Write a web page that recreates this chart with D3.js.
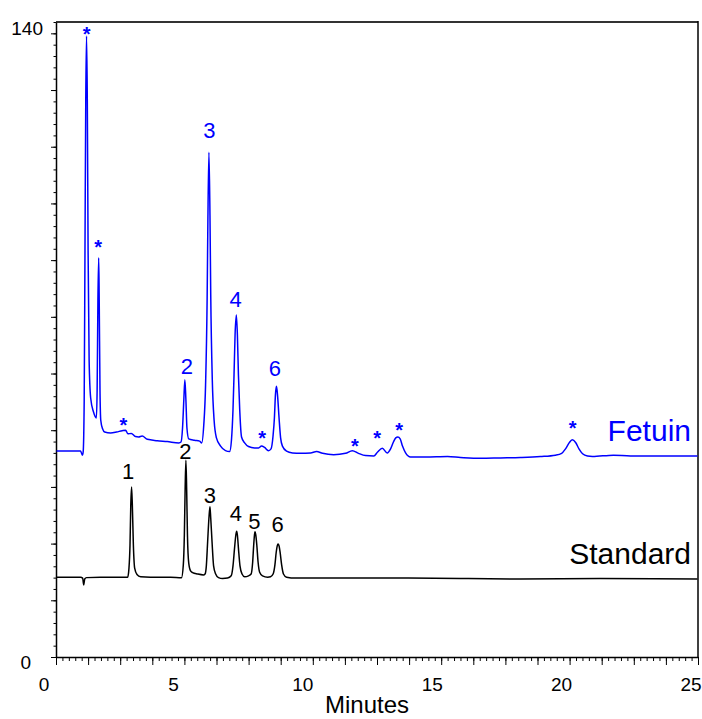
<!DOCTYPE html>
<html>
<head>
<meta charset="utf-8">
<script src="https://cdn.jsdelivr.net/npm/d3@7"></script>
<style>
  html, body { margin: 0; padding: 0; background: #fff; }
  svg { display: block; font-family: "Liberation Sans", Arial, Helvetica, sans-serif; }
</style>
</head>
<body>
<script>
// Fetuin chromatogram: retention time (min) and detector signal
const fetuinTime = [
  0.50, 1.43, 1.50, 1.53, 1.57, 1.60, 1.63, 1.66, 1.69, 1.72, 1.76, 1.82, 1.93,
  2.04, 2.07, 2.10, 2.13, 2.15, 2.18, 2.21, 2.28, 2.36, 2.59, 2.82,
  3.04, 3.17, 3.26, 3.39, 3.55, 3.67, 3.81, 4.01, 4.39, 4.78,
  5.23, 5.31, 5.37, 5.42, 5.46, 5.50, 5.54, 5.61, 5.83, 6.03,
  6.11, 6.19, 6.26, 6.32, 6.35, 6.39, 6.43, 6.46, 6.52, 6.59, 6.68, 6.84, 7.03, 7.19,
  7.26, 7.32, 7.36, 7.40, 7.45, 7.49, 7.53, 7.58, 7.65, 7.77, 7.92,
  8.15, 8.31, 8.42, 8.54, 8.69,
  8.79, 8.87, 8.92, 8.96, 9.00, 9.04, 9.10, 9.16, 9.23, 9.39, 9.62, 9.93,
  10.32, 10.55, 10.78, 11.21, 11.67, 11.93, 12.17, 12.44, 12.76, 12.91, 13.09, 13.28,
  13.41, 13.52, 13.61, 13.69, 13.78, 13.87, 13.99, 14.18, 14.76, 15.61, 16.11, 16.89, 17.66, 18.43, 19.20, 19.78,
  20.02, 20.17, 20.31, 20.43, 20.56, 20.69, 20.83, 21.02, 21.21, 22.02, 22.68, 23.84, 25.27
];
const fetuinSignal = [
  45.4, 45.4, 44.5, 45.2, 56.7, 89.7, 122.8, 136.9, 122.8, 89.7, 65.5, 57.1, 54.0,
  52.7, 58.9, 78.7, 88.0, 78.7, 58.9, 52.2, 50.3, 49.6, 49.4, 49.6,
  49.9, 50.0, 49.2, 49.3, 48.6, 48.5, 48.7, 48.0, 47.7, 47.5,
  47.2, 47.4, 50.5, 56.7, 61.1, 56.7, 50.5, 48.1, 47.8, 47.6,
  47.2, 51.1, 60.0, 78.7, 96.3, 111.3, 97.4, 79.8, 61.1, 52.2, 48.3, 46.5, 45.5, 45.3,
  47.8, 54.5, 62.2, 71.0, 75.4, 71.0, 62.2, 54.5, 48.5, 47.2, 46.4,
  46.1, 46.1, 46.5, 46.2, 45.5,
  45.9, 48.9, 52.7, 57.8, 59.7, 57.8, 52.7, 48.3, 46.5, 45.4, 45.0, 44.9,
  45.0, 45.3, 44.9, 44.6, 44.9, 45.5, 44.9, 44.4, 44.3, 45.2, 46.0, 45.0,
  45.9, 47.4, 48.3, 48.5, 48.1, 46.5, 45.0, 44.1, 44.1, 44.2, 44.0, 43.8, 43.9, 44.0, 44.2, 44.5,
  44.9, 45.9, 47.2, 47.9, 47.3, 45.9, 44.8, 44.3, 44.2, 44.5, 44.3, 44.3, 44.3
];

// Standard chromatogram
const standardTime = [
  0.50, 1.43, 1.51, 1.55, 1.59, 1.66, 2.20, 2.98,
  3.25, 3.30, 3.34, 3.37, 3.40, 3.43, 3.47, 3.52, 3.61, 3.75, 4.13, 4.91,
  5.33, 5.40, 5.44, 5.47, 5.50, 5.53, 5.56, 5.61, 5.68, 5.76, 5.95, 6.18,
  6.24, 6.29, 6.34, 6.39, 6.43, 6.46, 6.51, 6.57, 6.65, 6.76, 6.92, 7.11,
  7.25, 7.32, 7.38, 7.43, 7.46, 7.49, 7.53, 7.59, 7.67, 7.77, 7.92,
  8.02, 8.08, 8.12, 8.15, 8.17, 8.20, 8.24, 8.29, 8.35, 8.46, 8.66,
  8.77, 8.87, 8.94, 8.99, 9.03, 9.06, 9.10, 9.14, 9.20, 9.27, 9.39, 9.74,
  11.09, 13.79, 16.11, 18.43, 21.52, 25.27
];
const standardSignal = [
  17.6, 17.6, 17.4, 15.9, 17.2, 17.5, 17.6, 17.6,
  17.6, 19.6, 24.7, 33.5, 37.5, 33.5, 24.7, 19.6, 18.2, 17.7, 17.6, 17.6,
  17.5, 20.3, 26.9, 36.8, 43.4, 36.8, 26.9, 20.7, 19.0, 18.6, 18.3, 18.1,
  18.3, 20.1, 25.4, 30.6, 33.1, 30.6, 25.4, 20.1, 18.3, 17.5, 17.3, 17.4,
  17.9, 20.1, 24.0, 26.9, 27.7, 26.9, 24.0, 20.1, 18.3, 17.7, 17.9,
  18.3, 20.9, 24.7, 26.9, 27.6, 26.9, 24.7, 20.9, 18.7, 17.9, 17.6,
  17.7, 18.3, 20.3, 23.1, 24.5, 24.9, 24.5, 23.1, 20.3, 18.3, 17.6, 17.4,
  17.4, 17.4, 17.3, 17.2, 17.3, 17.2
];

// Peak annotations (text, retention time, signal level of the label)
const fetuinPeakText   = ["*", "*", "*", "2", "3", "4", "*", "6", "*", "*", "*", "*"];
const fetuinPeakTime   = [1.66, 2.11, 3.08, 5.54, 6.41, 7.42, 8.45, 8.94, 12.03, 12.89, 13.74, 20.45];
const fetuinPeakLevel  = [138.4, 91.3, 52.1, 64.2, 116.1, 78.9, 49.4, 63.6, 47.5, 49.4, 51.1, 51.4];

const standardPeakText  = ["1", "2", "3", "4", "5", "6"];
const standardPeakTime  = [3.27, 5.48, 6.43, 7.43, 8.15, 9.04];
const standardPeakLevel = [41.1, 45.4, 35.7, 31.7, 30.0, 29.3];

// Axes
const timeStart = 0.48, timeEnd = 25.29;
const xTickLabels = [0, 5, 10, 15, 20, 25];
const yMax = 140;
const yTickLabels = [0, 140];

const W = 702, H = 719;
const svg = d3.select("body").append("svg").attr("width", W).attr("height", H);

const x = d3.scaleLinear().domain([timeStart, timeEnd]).range([56, 698]);
const y = d3.scaleLinear().domain([0, yMax]).range([657, 22]);

const BLUE = "#0000ff";

// frame: top and right edges
svg.append("line")
  .attr("x1", x(timeStart)).attr("x2", x(timeEnd))
  .attr("y1", y(yMax)).attr("y2", y(yMax))
  .attr("stroke", "#333").attr("stroke-width", 2);
svg.append("line")
  .attr("x1", x(timeEnd)).attr("x2", x(timeEnd))
  .attr("y1", y(yMax) - 1).attr("y2", y(0))
  .attr("stroke", "#000").attr("stroke-width", 1.5);

// x axis ticks: 20 major intervals, 5 minor steps each
const xMajor = d3.range(0, 21).map(i => timeStart + i * (timeEnd - timeStart) / 20);
const xMinor = d3.range(0, 101).map(i => timeStart + i * (timeEnd - timeStart) / 100);

const gxMinor = svg.append("g").attr("transform", `translate(0,${y(0)})`)
  .call(d3.axisBottom(x).tickValues(xMinor).tickSize(4).tickSizeOuter(0).tickFormat(""));
const gxMajor = svg.append("g").attr("transform", `translate(0,${y(0)})`)
  .call(d3.axisBottom(x).tickValues(xMajor).tickSize(8).tickSizeOuter(0).tickFormat(""));
gxMajor.select(".domain").remove();

const gxLabels = svg.append("g").attr("transform", `translate(0,${y(0)})`)
  .call(d3.axisBottom(x).tickValues(xTickLabels).tickSize(0).tickPadding(21).tickFormat(d3.format("d")));
gxLabels.select(".domain").remove();
gxLabels.selectAll("text").attr("font-size", 19).attr("fill", "#000")
  .attr("font-family", "'Liberation Sans', Arial, sans-serif");

// y axis ticks: majors every 12.5, minors every 2.5
const yMajor = d3.range(0, yMax, 12.5);
const yMinor = d3.range(0, yMax + 0.001, 2.5);
const gyMinor = svg.append("g").attr("transform", `translate(${x(timeStart)},0)`)
  .call(d3.axisLeft(y).tickValues(yMinor).tickSize(2.5).tickSizeOuter(0).tickFormat(""));
const gyMajor = svg.append("g").attr("transform", `translate(${x(timeStart)},0)`)
  .call(d3.axisLeft(y).tickValues(yMajor).tickSize(5).tickSizeOuter(0).tickFormat(""));
gyMajor.select(".domain").remove();

[gxMinor, gyMinor].forEach(g => g.select(".domain").attr("stroke-width", 1.5));
svg.selectAll(".tick line").attr("stroke", "#000").attr("stroke-width", 1);

const gyLabels = svg.append("g").attr("transform", `translate(${x(timeStart)},0)`)
  .call(d3.axisLeft(y).tickValues(yTickLabels).tickSize(0).tickPadding(13).tickFormat(d3.format("d")));
gyLabels.select(".domain").remove();
gyLabels.selectAll("text")
  .attr("font-size", 19).attr("fill", "#000")
  .attr("font-family", "'Liberation Sans', Arial, sans-serif")
  .attr("dy", "0.32em")
  .attr("transform", d => d === 0 ? "translate(-12,5)" : "translate(0,6)");

svg.append("text")
  .attr("x", (x(0) + x(25)) / 2).attr("y", 713)
  .attr("text-anchor", "middle")
  .attr("font-size", 24).attr("fill", "#000")
  .text("Minutes");

// traces
const line = d3.line()
  .x(d => x(d[0]))
  .y(d => y(d[1]))
  .curve(d3.curveMonotoneX);

const series = [
  { name: "Standard", t: standardTime, v: standardSignal, color: "#000",
    labels: d3.zip(standardPeakText, standardPeakTime, standardPeakLevel) },
  { name: "Fetuin", t: fetuinTime, v: fetuinSignal, color: BLUE,
    labels: d3.zip(fetuinPeakText, fetuinPeakTime, fetuinPeakLevel) }
];

series.forEach(s => {
  const pts = d3.zip(s.t, s.v);
  svg.append("path")
    .datum(pts)
    .attr("fill", "none")
    .attr("stroke", s.color)
    .attr("stroke-width", 1.5)
    .attr("stroke-linejoin", "round")
    .attr("d", line);

  svg.append("g").selectAll("text")
    .data(s.labels)
    .join("text")
    .attr("x", d => x(d[1]))
    .attr("y", d => y(d[2]))
    .attr("text-anchor", "middle")
    .attr("fill", s.color)
    .attr("font-size", d => d[0] === "*" ? 20 : 22)
    .attr("font-weight", d => d[0] === "*" ? "bold" : "normal")
    .attr("dy", d => d[0] === "*" ? "0.58em" : "0.36em")
    .text(d => d[0]);

  const last = pts[pts.length - 1];
  svg.append("text")
    .attr("x", 691)
    .attr("y", y(last[1]) - 15)
    .attr("text-anchor", "end")
    .attr("font-size", 30)
    .attr("fill", s.color)
    .text(s.name);
});
</script>
</body>
</html>
